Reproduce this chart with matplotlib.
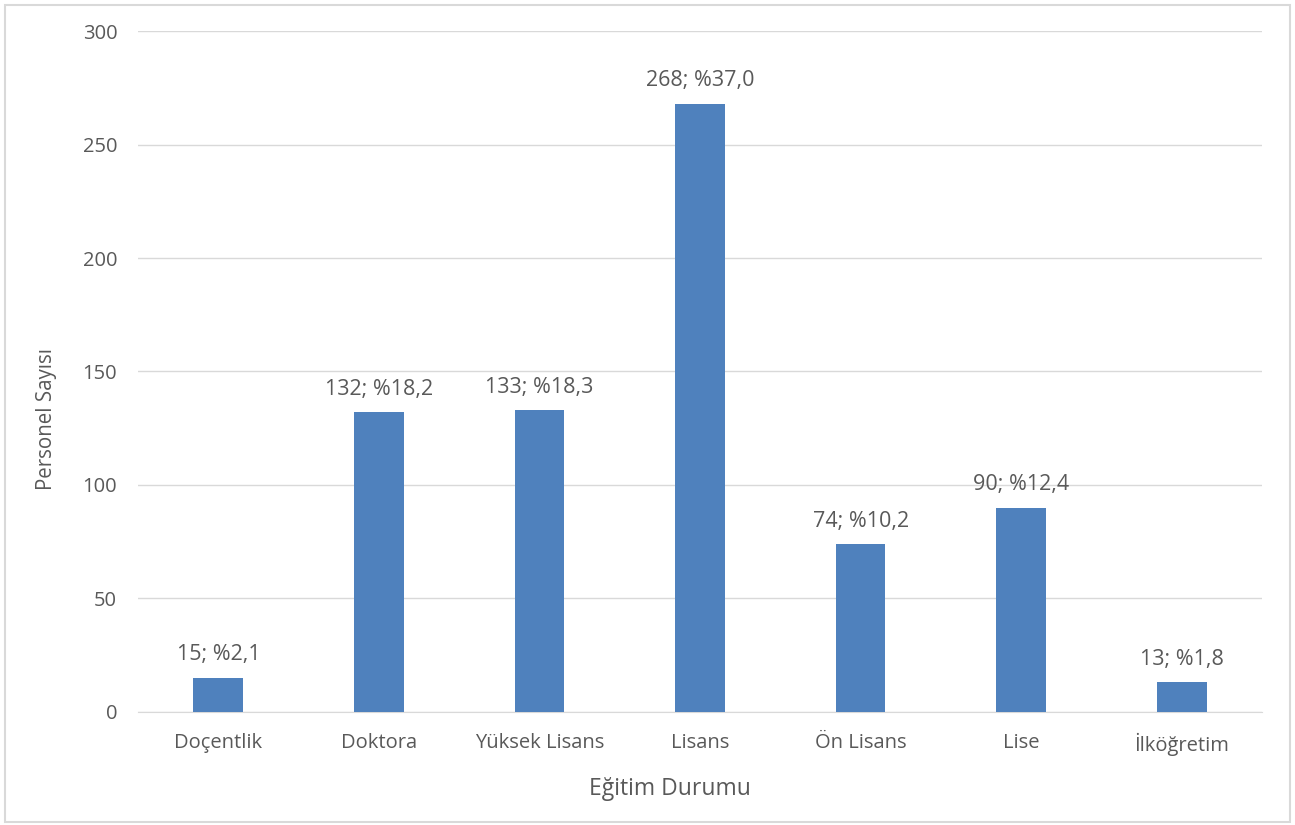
import matplotlib.pyplot as plt
from matplotlib.patches import Rectangle
import numpy as np

categories = ['Doçentlik', 'Doktora', 'Yüksek Lisans', 'Lisans', 'Ön Lisans', 'Lise', 'İlköğretim']
counts = [15, 132, 133, 268, 74, 90, 13]
percents = ['2,1', '18,2', '18,3', '37,0', '10,2', '12,4', '1,8']
yticks = [0, 50, 100, 150, 200, 250, 300]

text_color = '#595959'
bar_color = '#4F81BD'

plt.rcParams['font.family'] = ['Open Sans', 'DejaVu Sans']

fig = plt.figure(figsize=(12.95, 8.25), dpi=100)
ax = fig.add_axes([0.1066, 0.137, 0.8679, 0.8254])

x = np.arange(len(categories))
bars = ax.bar(x, counts, width=0.31, color=bar_color, zorder=3)
for b, c, p in zip(bars, counts, percents):
    ax.annotate('%d; %%%s' % (c, p), (b.get_x() + b.get_width() / 2, c),
                xytext=(0, 9), textcoords='offset points', ha='center', va='bottom',
                fontsize=15.5, color=text_color)

ax.set_xlim(-0.5, len(categories) - 0.5)
ax.set_ylim(0, 300)
ax.set_yticks(yticks)
ax.set_xticks(x)
ax.set_xticklabels(categories)
ax.tick_params(axis='both', length=0, labelsize=14.5, colors=text_color)
ax.tick_params(axis='y', pad=15)
ax.tick_params(axis='x', pad=15)
ax.grid(axis='y', color='#D9D9D9', linewidth=1, zorder=0)
for s in ['top', 'right', 'left']:
    ax.spines[s].set_visible(False)
ax.spines['bottom'].set_color('#D9D9D9')

ax.set_xlabel('Eğitim Durumu', fontsize=16.5, color=text_color)
ax.set_ylabel('Personel Sayısı', fontsize=14.8, color=text_color)
ax.xaxis.set_label_coords(0.473, -0.095)
ax.yaxis.set_label_coords(-0.0725, 0.43)

fig.patches.append(Rectangle((0.004, 0.004), 0.992, 0.99, transform=fig.transFigure,
                             fill=False, edgecolor='#D9D9D9', linewidth=1.5))

fig.savefig('out.png', dpi=100)
